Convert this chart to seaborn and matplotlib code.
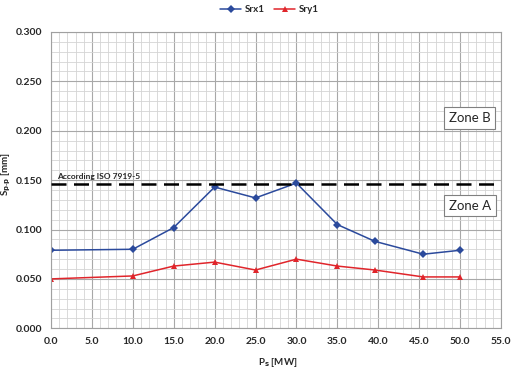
import matplotlib
matplotlib.use("Agg")
import matplotlib.pyplot as plt
import seaborn as sns
import pandas as pd
from matplotlib.ticker import MultipleLocator

sns.set_style("white")
plt.rcParams['font.family'] = ['Lato', 'DejaVu Sans']

power_mw = [0.0, 10.0, 15.0, 20.0, 25.0, 30.0, 35.0, 39.6, 45.5, 50.0]
srx1 = [0.079, 0.080, 0.102, 0.143, 0.132, 0.147, 0.105, 0.088, 0.075, 0.079]
sry1 = [0.050, 0.053, 0.063, 0.067, 0.059, 0.070, 0.063, 0.059, 0.052, 0.052]
iso_limit = 0.146
x_ticks = [0, 5, 10, 15, 20, 25, 30, 35, 40, 45, 50, 55]
y_ticks = [0.0, 0.05, 0.10, 0.15, 0.20, 0.25, 0.30]

df = pd.DataFrame({"P": power_mw * 2,
                   "S": srx1 + sry1,
                   "series": ["Srx1"] * len(power_mw) + ["Sry1"] * len(power_mw)})

fig = plt.figure(figsize=(5.17, 3.72), dpi=100)
ax = fig.add_axes([0.0986, 0.1175, 0.8704, 0.7965])

palette = {"Srx1": "#2B4A9C", "Sry1": "#E0252B"}
markers = {"Srx1": "D", "Sry1": "^"}
sns.lineplot(data=df, x="P", y="S", hue="series", style="series",
             palette=palette, markers=markers, dashes=False,
             markersize=4.5, linewidth=1.1, markeredgewidth=0, ax=ax, legend=True)

ax.axhline(iso_limit, color="black", linestyle=(0, (6, 3)), linewidth=1.8, zorder=3)
ax.text(0.8, iso_limit + 0.004, "According ISO 7919-5", fontsize=6,
        fontweight="bold", ha="left", va="bottom")

box = dict(boxstyle="square,pad=0.35", facecolor="white", edgecolor="#808080", linewidth=0.8)
ax.text(51.2, 0.213, "Zone B", fontsize=9.5, ha="center", va="center", bbox=box, zorder=5)
ax.text(51.2, 0.124, "Zone A", fontsize=9.5, ha="center", va="center", bbox=box, zorder=5)

ax.set_xlim(0, 55)
ax.set_ylim(0, 0.3)
ax.set_xticks(x_ticks)
ax.set_yticks(y_ticks)
ax.set_xticklabels([f"{v:.1f}" for v in x_ticks])
ax.set_yticklabels([f"{v:.3f}" for v in y_ticks])
ax.xaxis.set_minor_locator(MultipleLocator(1))
ax.yaxis.set_minor_locator(MultipleLocator(0.01))
ax.grid(which="major", color="#A8A8A8", linewidth=0.8)
ax.grid(which="minor", color="#D4D4D4", linewidth=0.6)
ax.set_axisbelow(True)
for s in ax.spines.values():
    s.set_color("#A0A0A0")
    s.set_linewidth(0.8)
ax.tick_params(axis="both", which="major", labelsize=7.5, length=3, color="#A0A0A0", pad=3)
ax.tick_params(axis="x", which="major", length=0, pad=6)
ax.tick_params(axis="both", which="minor", length=0)
for lab in ax.get_xticklabels() + ax.get_yticklabels():
    lab.set_fontweight("bold")

ax.set_xlabel(r"P$_\mathbf{s}$ [MW]", fontsize=7, fontweight="bold")
ax.set_ylabel(r"S$_\mathbf{p\text{-}p}$ [mm]", fontsize=7, fontweight="bold")
ax.xaxis.set_label_coords(0.505, -0.095)
ax.yaxis.set_label_coords(-0.085, 0.52)

leg = ax.legend(loc="upper center", bbox_to_anchor=(0.485, 1.12), ncol=2, frameon=False,
                fontsize=7, handlelength=2.2, columnspacing=1.0, handletextpad=0.3)
for t in leg.get_texts():
    t.set_fontweight("bold")

fig.savefig("out.png", dpi=100)
